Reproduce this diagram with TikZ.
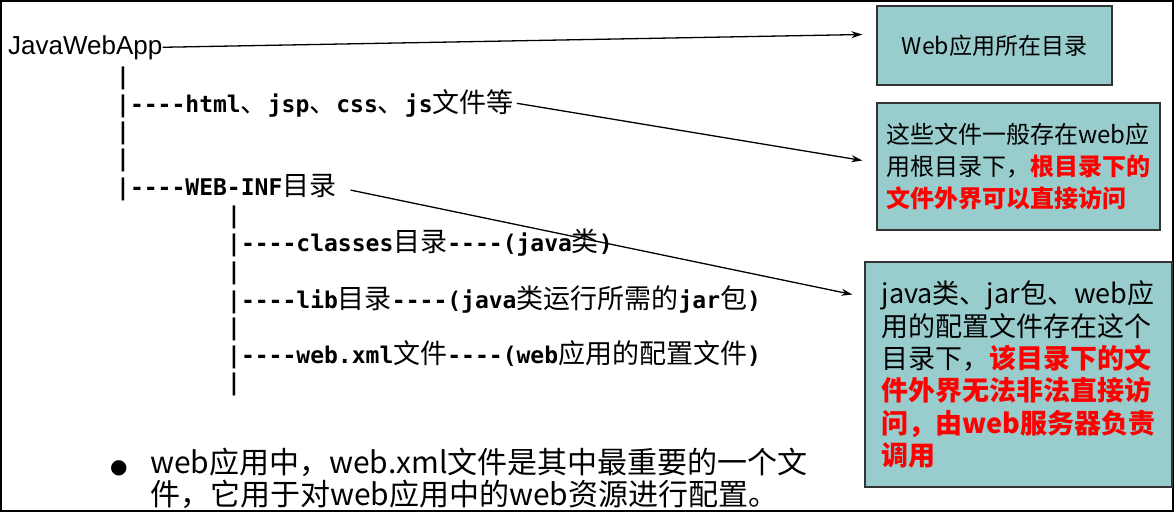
\documentclass[tikz,border=0pt]{standalone}
\usepackage{fontspec}
\setmainfont{Noto Sans CJK SC}
\newfontfamily\zhfont{Noto Sans CJK SC}
\newfontfamily\monofont{DejaVu Sans Mono}
\newfontfamily\appfont{Liberation Sans}
\newfontfamily\symfont{DejaVu Sans}
\usetikzlibrary{arrows.meta}
\definecolor{boxteal}{RGB}{153,204,204}
\definecolor{hired}{RGB}{255,0,0}
\newcommand\zh[1]{{\fontsize{27}{27}\selectfont\zhfont\mdseries #1}}
\newcommand\hl[1]{{\color{hired}\bfseries #1}}
\begin{document}
\begin{tikzpicture}[x=1pt,y=-1pt,
  treeline/.style={anchor=base west, inner sep=0pt, font=\fontsize{23}{26}\selectfont\monofont\bfseries},
  infobox/.style={draw=black!80, line width=1.3pt, fill=boxteal, align=left, inner sep=0pt},
  conn/.style={-{Stealth[length=11pt,width=7pt]}, line width=1.3pt},
  noteline/.style={anchor=base west, inner sep=0pt, font=\fontsize{30}{32}\selectfont}]
\useasboundingbox (0,0) rectangle (1176,514);
\draw[line width=2.2pt] (1,1) rectangle (1173,511);

% root
\node[anchor=base west, inner sep=0pt, font=\fontsize{26}{28}\selectfont\appfont] (app) at (8,54) {JavaWebApp};

% level 1
\node[treeline] (v1) at (116,84) {|};
\node[treeline] (h1) at (116,112) {|----html\zh{、}jsp\zh{、}css\zh{、}js\zh{文件等}};
\node[treeline] (v2) at (116,139) {|};
\node[treeline] (v3) at (116,166) {|};
\node[treeline] (w1) at (116,195) {|----WEB-INF\zh{目录}};

% level 2
\node[treeline] (v4) at (227,223) {|};
\node[treeline] (c1) at (227,251) {|----classes\zh{目录}----(java\zh{类})};
\node[treeline] (v5) at (227,279) {|};
\node[treeline] (l1) at (227,308) {|----lib\zh{目录}----(java\zh{类运行所需的}jar\zh{包})};
\node[treeline] (v6) at (227,335) {|};
\node[treeline] (x1) at (227,363) {|----web.xml\zh{文件}----(web\zh{应用的配置文件})};
\node[treeline] (v7) at (227,390) {|};

% boxes
\node[infobox, minimum width=235pt, minimum height=79pt,
      font=\fontsize{23}{28}\selectfont] (box1) at (994.5,45.5) {Web应用所在目录};
\node[infobox, minimum width=283pt, minimum height=127pt,
      font=\fontsize{24}{32}\selectfont] (box2) at (1018.5,166.5)
      {这些文件一般存在web应\\用根目录下，\hl{根目录下的}\\\hl{文件外界可以直接访问}};
\node[infobox, minimum width=307pt, minimum height=225pt,
      font=\fontsize{27}{32.3}\selectfont] (box3) at (1018.5,374.5)
      {java类、jar包、web应\\用的配置文件存在这个\\目录下，\hl{该目录下的文}\\\hl{件外界无法非法直接访}\\\hl{问，由web服务器负责}\\\hl{调用}};

% connector end points
\coordinate (e1) at ([xshift=-14pt,yshift=11pt]box1.west);
\coordinate (e2) at ([xshift=-14pt,yshift=6pt]box2.west);
\coordinate (e3) at ([xshift=-12pt,yshift=80pt]box3.west);

\draw[conn] (app.east) -- (e1);
\draw[conn] ([xshift=3pt]h1.east) -- (e2);
\draw[conn] ([xshift=14pt,yshift=-3pt]w1.east) -- (e3);

% bottom note
\node[anchor=base west, inner sep=0pt, font=\fontsize{20}{20}\selectfont\symfont] (bul) at (110,473) {●};
\node[noteline] (note1) at (150,473) {web应用中，web.xml文件是其中最重要的一个文};
\node[noteline] (note2) at (150,505) {件，它用于对web应用中的web资源进行配置。};
\end{tikzpicture}
\end{document}
